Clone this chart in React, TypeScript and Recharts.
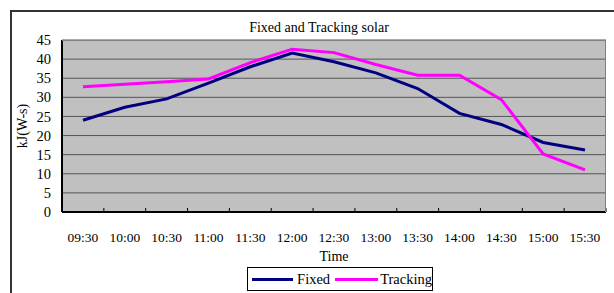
import React from "react";
import { LineChart, Line, XAxis, YAxis, CartesianGrid } from "recharts";

const times = ["09:30","10:00","10:30","11:00","11:30","12:00","12:30","13:00","13:30","14:00","14:30","15:00","15:30"];
const fixedValues = [24, 27.4, 29.6, 33.7, 38, 41.6, 39.3, 36.4, 32.3, 25.8, 22.9, 18.2, 16.2];
const trackingValues = [32.8, 33.4, 34.1, 34.8, 39.1, 42.6, 41.7, 38.6, 35.8, 35.8, 29.4, 15.2, 11];
const yTicks = [0, 5, 10, 15, 20, 25, 30, 35, 40, 45];
const edgeTicks = [0, 1, 2, 3, 4, 5, 6, 7, 8, 9, 10, 11, 12, 13];

const data = times.map((t, i) => ({ time: t, slot: i + 0.5, Fixed: fixedValues[i], Tracking: trackingValues[i] }));

const FONT = "Liberation Serif";
const txt = { fontFamily: FONT };

export default function App() {
  return (
    <div style={{ position: "absolute", left: 0, top: 0, width: 614, height: 293, overflow: "hidden", background: "#fff", fontFamily: FONT }}>
      <div style={{ position: "absolute", left: 10, top: 10, width: 640, height: 320, borderLeft: "2px solid #333", borderTop: "2px solid #333", boxSizing: "border-box" }} />
      <div style={{ position: "absolute", left: 19, width: 600, top: 19, textAlign: "center", fontSize: 14, color: "#000", lineHeight: "18px" }}>Fixed and Tracking solar</div>
      <LineChart width={614} height={293} data={data} margin={{ top: 40, right: 8, bottom: 0, left: 0 }} style={{ position: "absolute", left: 0, top: 0, fontFamily: FONT }}>
        <CartesianGrid vertical={false} fill="#C0C0C0" stroke="#555" strokeWidth={1} />
        <CartesianGrid xAxisId="edge" horizontal={false} vertical stroke="#000" strokeWidth={1} fill="none" strokeDasharray="0 168 4 10" />
        <XAxis dataKey="time" height={81} padding={{ left: 21, right: 21 }} axisLine={{ stroke: "#000", strokeWidth: 2 }} tickLine={false} tickMargin={14} tick={{ fontSize: 13.5, fill: "#000", fontFamily: FONT, style: txt }} interval={0} label={{ value: "Time", position: "insideTop", offset: 39, fontSize: 14, fill: "#000", fontFamily: FONT, style: txt }} />
        <XAxis xAxisId="edge" dataKey="slot" type="number" domain={[0, 13]} ticks={edgeTicks} allowDataOverflow interval={0} orientation="top" hide />
        <YAxis domain={[0, 45]} ticks={yTicks} width={62} interval={0} axisLine={{ stroke: "#000", strokeWidth: 2 }} tickLine={false} tickSize={0} tickMargin={11} tick={{ fontSize: 14.5, fill: "#000", fontFamily: FONT, style: txt }} label={{ value: "kJ(W-s)", angle: -90, position: "insideLeft", offset: 22, fontSize: 14, fill: "#000", fontFamily: FONT, style: { ...txt, textAnchor: "middle" } }} />
        <Line type="linear" dataKey="Fixed" stroke="#000080" strokeWidth={3} dot={false} isAnimationActive={false} />
        <Line type="linear" dataKey="Tracking" stroke="#FF00FF" strokeWidth={3} dot={false} isAnimationActive={false} />
      </LineChart>
      <div style={{ position: "absolute", left: 62, width: 544, top: 40, height: 172, borderTop: "1px solid #808080", borderRight: "1px solid #808080", boxSizing: "border-box", pointerEvents: "none" }} />
      <div style={{ position: "absolute", left: 247, top: 267, width: 186, height: 24, border: "1px solid #000", boxSizing: "border-box", display: "flex", alignItems: "center", fontSize: 14.5, color: "#000", background: "#fff" }}>
        <div style={{ width: 42, height: 3, background: "#000080", marginLeft: 4, marginRight: 4 }} />
        <span>Fixed</span>
        <div style={{ width: 44, height: 3, background: "#FF00FF", marginLeft: 5, marginRight: 2 }} />
        <span>Tracking</span>
      </div>
    </div>
  );
}
